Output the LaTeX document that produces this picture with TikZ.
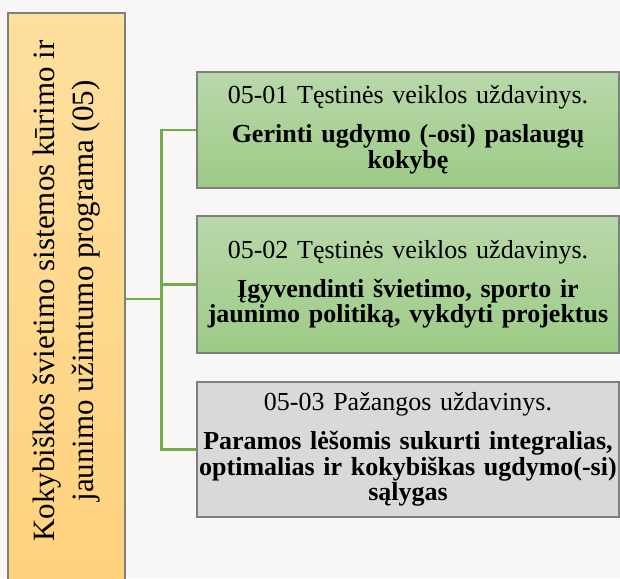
\documentclass[tikz,border=0pt]{standalone}
\usepackage{fontspec}
\setmainfont{Liberation Serif}
\usetikzlibrary{calc}
\definecolor{bgpaper}{HTML}{F8F7F5}
\definecolor{linkgreen}{HTML}{70AD47}
\definecolor{boxgreentop}{HTML}{B8D8AA}
\definecolor{boxgreenbot}{HTML}{9DCB86}
\definecolor{progtop}{HTML}{FDDF9E}
\definecolor{progbot}{HTML}{FFD27D}
\definecolor{edgegrey}{HTML}{7F7F7F}
\begin{document}
\begin{tikzpicture}[
    x=1pt, y=1pt,
    prog/.style={rectangle, draw=edgegrey, line width=1.2pt, top color=progtop, bottom color=progbot,
                 minimum width=117pt, minimum height=572pt, inner sep=0pt},
    task/.style={rectangle, draw=edgegrey, line width=1.2pt, top color=boxgreentop, bottom color=boxgreenbot,
                 minimum width=422pt, text width=420pt, align=center, inner sep=0pt,
                 font=\fontsize{26}{25.5}\selectfont},
    adv/.style={task, top color=black!15, bottom color=black!15},
    link/.style={linkgreen, line width=2.6pt}
]
    % Paper and fixed frame
    \useasboundingbox (0,0) rectangle (620,578);
    \fill[bgpaper] (0,0) rectangle (620,578);

    % Programme box with rotated title
    \node[prog] (prog) at (66.5,279) {\raisebox{16pt}{\rotatebox{90}{\fontsize{31}{39}\selectfont
        \begin{tabular}{@{}c@{}}Kokybiškos švietimo sistemos kūrimo ir\\ jaunimo užimtumo programa (05)\end{tabular}}}};

    % Task boxes
    \node[task, minimum height=116pt] (t1) at (408,448) {05-01 Tęstinės veiklos uždavinys.\\[13.5pt]
        \textbf{Gerinti ugdymo (-osi) paslaugų\\ kokybę}};
    \node[task, minimum height=137pt] (t2) at (408,293.5) {05-02 Tęstinės veiklos uždavinys.\\[13.5pt]
        \textbf{Įgyvendinti švietimo, sporto ir\\ jaunimo politiką, vykdyti projektus}};
    \node[adv, minimum height=135pt] (t3) at (408,128.5) {05-03 Pažangos uždavinys.\\[13.5pt]
        \textbf{Paramos lėšomis sukurti integralias,\\ optimalias ir kokybiškas ugdymo(-si)\\ sąlygas}};

    % Tree connectors
    \coordinate (bus) at ($(prog.east)+(36,0)$);
    \draw[link] (prog.east) -- (bus);
    \draw[link] (bus) |- (t1.west);
    \draw[link] (bus) |- (t2.west);
    \draw[link] (bus) |- (t3.west);
\end{tikzpicture}
\end{document}
